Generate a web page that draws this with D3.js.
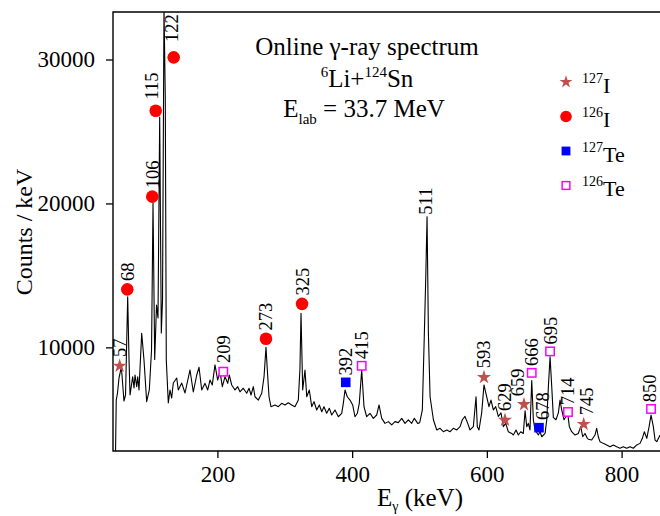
<!DOCTYPE html>
<html>
<head>
<meta charset="utf-8">
<script src="https://cdn.jsdelivr.net/npm/d3@7"></script>
<style>
	body {
		margin: 0;
		background: #fff;
	}
	svg, svg text {
		font-family: "Liberation Serif", "Times New Roman", serif;
	}
	.axis text {
		font-size: 23px;
		fill: #000;
	}
	.axis line {
		stroke: #000;
		stroke-width: 1.3px;
	}
	.frame {
		fill: none;
		stroke: #000;
		stroke-width: 1.4px;
	}
	.spec {
		fill: none;
		stroke: #000;
		stroke-width: 1.1px;
		stroke-linejoin: round;
	}
	.plabel {
		font-size: 18.5px;
	}
</style>
</head>
<body>
<script>
	// spectrum: energy (keV) and counts / keV
	var specE = [48.4, 49.8, 51.7, 53.9, 57.4, 61.3, 63.6, 66.8, 68.8, 70.3, 74.2, 76.2, 77.7, 80.2, 81.7, 83.6,
		87.6, 91.0, 95.0, 98.9, 102.2, 104.4, 106.9, 109.6, 111.8, 114.3, 116.7, 118.5, 120.7, 122.6, 124.1,
		127.1, 129.6, 132.1, 134.5, 139.6, 141.9, 147.0, 151.9, 159.3, 164.2, 169.3, 172.7,
		176.7, 181.6, 185.6, 189.0, 192.4, 196.4, 200.4, 203.8, 207.3, 211.3, 215.3, 217.6, 221.2, 226.1,
		230.1, 233.5, 238.4, 243.5, 246.9, 249.9, 253.3, 255.8, 260.7, 265.8, 269.2, 272.1, 274.7, 276.6,
		279.5, 285.5, 290.4, 295.4, 300.3, 305.2, 310.2, 315.1, 320.1, 322.5, 324.1, 326.6, 330.0, 332.6,
		336.4, 340.0, 343.4, 347.4, 351.3, 354.9, 358.2, 362.2, 366.1, 369.7, 374.6, 379.5, 384.5, 386.9,
		389.4, 392.8, 396.8, 400.8, 404.2, 407.7, 410.6, 414.2, 417.6, 421.6, 426.5, 431.4, 436.4, 439.9,
		443.9, 448.8, 453.7, 458.7, 463.6, 468.5, 473.6, 478.5,
		483.4, 488.4, 492.3, 497.3, 500.3, 504.2, 507.2, 509.3, 511.2, 513.2, 515.7, 520.6, 525.6, 530.5,
		535.4, 540.5, 545.4, 550.2, 555.3, 560.2, 563.6, 567.5, 571.6, 575.0, 579.9, 583.9, 585.8, 588.3,
		592.3, 595.7, 599.7, 603.1, 606.1, 609.6, 613.1, 617.0, 621.0, 624.4, 628.0, 631.8, 636.9,
		639.3, 643.3, 646.7, 650.3, 654.1, 656.7, 659.2, 661.5, 664.0, 666.6, 669.0, 671.5, 676.4, 678.9,
		681.5, 686.4, 688.9, 691.3, 693.8, 696.3, 698.7, 702.6, 706.1, 708.6, 711.1, 714.5, 717.5, 719.4,
		722.4, 725.9, 730.8, 735.7, 739.3, 742.3, 745.7, 749.1,
		750.6, 755.6, 760.5, 763.0, 765.4, 767.9, 772.8, 777.9, 782.8, 787.7, 792.7, 797.6, 802.5, 807.6,
		812.5, 817.4, 822.5, 827.4, 830.8, 833.8, 837.4, 840.8, 843.7, 847.1, 849.7, 852.2, 857.1];
	var specCounts = [1480, 6340, 6830, 7870, 8640, 6270, 6690, 13520, 9120, 6690, 7960, 7180, 8080, 7270, 7960, 7040,
		10980, 9120, 6230, 7040, 9820, 20030, 9160, 12940, 12040, 26010, 11000, 13290, 33600, 27400, 9120,
		6140, 7040, 6480, 7520, 7870, 7040, 7520, 6830, 8430, 6900, 8080, 8620,
		7040, 7500, 7040, 7730, 7390, 8780, 7730, 8310, 7270, 7960, 7500, 8080, 7390, 7040,
		7270, 6910, 7160, 6810, 7160, 6690, 7270, 6570, 6340, 6810, 7960, 10000, 7960, 6570,
		5880, 6000, 5880, 6110, 6000, 6150, 6000, 5880, 6340, 8500, 12370, 7040, 8430, 6570,
		7040, 5880, 6230, 5650, 6000, 5530, 5880, 5420, 5770, 5300, 5650, 5180, 5420, 6110,
		7040, 6570, 6340, 6000, 5180, 5420, 6110, 8430, 5880, 5180, 5420, 5070, 5300, 6000,
		5070, 4720, 4840, 4610, 4840, 4770, 5070, 4720,
		4970, 4720, 5070, 4720, 4770, 5650, 10980, 14910, 19080, 10980, 6570, 4970, 4260, 4380,
		4140, 4260, 4140, 4380, 4260, 4490, 4970, 5200, 4720, 4260, 4490, 6570, 4490, 4260,
		5450, 7390, 6570, 5880, 6340, 5650, 5880, 5200, 5450, 4490, 4720, 4140, 4020,
		3910, 4260, 3910, 4140, 4020, 5600, 4490, 4720, 4260, 7700, 4970, 4260, 3910, 4140,
		3790, 4020, 4970, 7270, 9350, 7270, 5120, 4970, 5450, 6340, 5650, 4970, 5200, 5650,
		4490, 4140, 3910, 4020, 4490, 3790, 4020, 3680,
		3620, 3560, 3910, 4380, 3790, 3450, 3330, 3220, 3100, 3220, 3100, 2990, 3100, 2990,
		3100, 2990, 3220, 3330, 3680, 4140, 3680, 4490, 5300, 4490, 3560, 3450, 3910];

	// identified lines: label text, marker energy, marker height, nuclide ("" = no marker)
	var peakLabel = ["57", "68", "106", "115", "122", "209", "273", "325", "392", "415", "511",
		"593", "629", "659", "666", "678", "695", "714", "745", "850"];
	var peakE = [54.9, 66.2, 103.3, 108.4, 135.1, 208.7, 272.1, 325.6, 390.5, 414.2, 509.5,
		595.7, 626.9, 655.1, 666.6, 677.4, 693.8, 720.4, 743.7, 843.7];
	var peakCounts = [8710, 14030, 20470, 26440, 30150, 8310, 10600, 13020, 7570, 8720, 19080,
		7920, 4950, 6040, 8230, 4420, 9720, 5510, 4660, 5720];
	var peakNuclide = ["127I", "126I", "126I", "126I", "126I", "126Te", "126I", "126I", "127Te", "126Te", "",
		"127I", "127I", "127I", "126Te", "127Te", "126Te", "126Te", "127I", "126Te"];

	var legendMass = ["127", "126", "127", "126"];
	var legendElem = ["I", "I", "Te", "Te"];

	var xTicks = [200, 400, 600, 800];
	var yTicks = [10000, 20000, 30000];

	var W = 660, H = 516;
	var margin = {top: 12, right: 0, bottom: 65, left: 113};
	var serif = "'Liberation Serif', 'Times New Roman', serif";

	var x = d3.scaleLinear().domain([45, 857]).range([margin.left, W - margin.right]);
	var y = d3.scaleLinear().domain([2800, 33300]).range([H - margin.bottom, margin.top]);

	var svg = d3.select("body").append("svg")
		.attr("width", W)
		.attr("height", H)
		.style("font-family", serif);

	svg.append("clipPath").attr("id", "plotclip")
		.append("rect")
		.attr("x", margin.left).attr("y", margin.top)
		.attr("width", W - margin.left - margin.right)
		.attr("height", H - margin.top - margin.bottom);

	var spec = specE.map(function(e, i) { return [e, specCounts[i]]; });
	var line = d3.line()
		.x(function(d) { return x(d[0]); })
		.y(function(d) { return y(d[1]); });

	svg.append("path")
		.datum(spec)
		.attr("class", "spec")
		.attr("clip-path", "url(#plotclip)")
		.attr("d", line);

	// axes (ticks only, the frame is drawn separately)
	var xAxis = svg.append("g")
		.attr("class", "axis")
		.attr("transform", "translate(0," + (H - margin.bottom) + ")")
		.call(d3.axisBottom(x).tickValues(xTicks).tickFormat(d3.format("d"))
			.tickSize(7).tickSizeOuter(0).tickPadding(8));
	var yAxis = svg.append("g")
		.attr("class", "axis")
		.attr("transform", "translate(" + margin.left + ",0)")
		.call(d3.axisLeft(y).tickValues(yTicks).tickFormat(d3.format("d"))
			.tickSize(7).tickSizeOuter(0).tickPadding(11));
	svg.selectAll(".axis .domain").remove();
	svg.selectAll(".axis").attr("font-family", null).attr("font-size", null);
	svg.selectAll(".axis text").style("font-family", serif);

	svg.append("path")
		.attr("class", "frame")
		.attr("d", "M" + W + "," + margin.top + "H" + margin.left + "V" + (H - margin.bottom) + "H" + W);

	// markers
	var starPath = d3.symbol().type(d3.symbolStar);
	function drawMarker(g, kind, cx, cy, big) {
		var s = big ? 1 : 0.92;
		if (kind == "127I") {
			g.append("path")
				.attr("d", starPath.size(62 * s * s)())
				.attr("transform", "translate(" + cx + "," + cy + ")")
				.attr("fill", "#c0504d");
		} else if (kind == "126I") {
			g.append("circle").attr("cx", cx).attr("cy", cy).attr("r", 6.3 * s).attr("fill", "#ff0000");
		} else if (kind == "127Te") {
			var a = 9.6 * s;
			g.append("rect").attr("x", cx - a / 2).attr("y", cy - a / 2)
				.attr("width", a).attr("height", a).attr("fill", "#0000ff");
		} else if (kind == "126Te") {
			var b = 8.4 * s;
			g.append("rect").attr("x", cx - b / 2).attr("y", cy - b / 2)
				.attr("width", b).attr("height", b)
				.attr("fill", "#fff").attr("stroke", "#ff00ff").attr("stroke-width", 1.5);
		}
	}
	var halfH = {"127I": 7, "126I": 6.3, "127Te": 4.8, "126Te": 4.8, "": 0};
	// small hand nudges for crowded labels
	var nudge = {"115": [-4, -3], "122": [-2, -7], "659": [-6, 1], "678": [3, -1], "745": [3, 0],
		"209": [0, -2], "850": [-2, 0]};

	var marks = svg.append("g");
	peakE.forEach(function(e, i) {
		var cx = x(e), cy = y(peakCounts[i]);
		drawMarker(marks, peakNuclide[i], cx, cy, true);
		var n = nudge[peakLabel[i]] || [0, 0];
		var ly = cy - halfH[peakNuclide[i]] - 2 + n[1];
		marks.append("text")
			.attr("class", "plabel")
			.style("font-family", serif)
			.attr("transform", "translate(" + (cx + 6.5 + n[0]) + "," + ly + ") rotate(-90)")
			.text(peakLabel[i]);
	});

	// legend
	var legend = svg.append("g");
	var legKinds = ["127I", "126I", "127Te", "126Te"];
	legKinds.forEach(function(k, i) {
		var cy = 82 + i * 34.5;
		drawMarker(legend, k, 566, cy, false);
		var t = legend.append("text").attr("x", 582).attr("y", cy + 10.5).style("font-size", "22px");
		t.append("tspan").attr("dy", -10).style("font-size", "14px").text(legendMass[i]);
		t.append("tspan").attr("dy", 10).text(legendElem[i]);
	});

	// title block
	var title = svg.append("g").attr("text-anchor", "middle").style("font-size", "25px");
	title.append("text").attr("x", 367).attr("y", 55).text("Online \u03b3-ray spectrum");
	var t2 = title.append("text").attr("x", 367).attr("y", 87);
	t2.append("tspan").attr("dy", -10).style("font-size", "15px").text("6");
	t2.append("tspan").attr("dy", 10).text("Li+");
	t2.append("tspan").attr("dy", -10).style("font-size", "15px").text("124");
	t2.append("tspan").attr("dy", 10).text("Sn");
	var t3 = title.append("text").attr("x", 364).attr("y", 117);
	t3.append("tspan").text("E");
	t3.append("tspan").attr("dy", 7).style("font-size", "15px").text("lab");
	t3.append("tspan").attr("dy", -7).text(" = 33.7 MeV");

	// axis titles
	svg.append("text")
		.attr("transform", "translate(32,232) rotate(-90)")
		.attr("text-anchor", "middle")
		.style("font-size", "24px")
		.text("Counts / keV");
	var xt = svg.append("text")
		.attr("x", 420).attr("y", 506)
		.attr("text-anchor", "middle")
		.style("font-size", "25px");
	xt.append("tspan").text("E");
	xt.append("tspan").attr("dy", 5).style("font-size", "14px").text("\u03b3");
	xt.append("tspan").attr("dy", -5).text(" (keV)");
</script>
</body>
</html>
